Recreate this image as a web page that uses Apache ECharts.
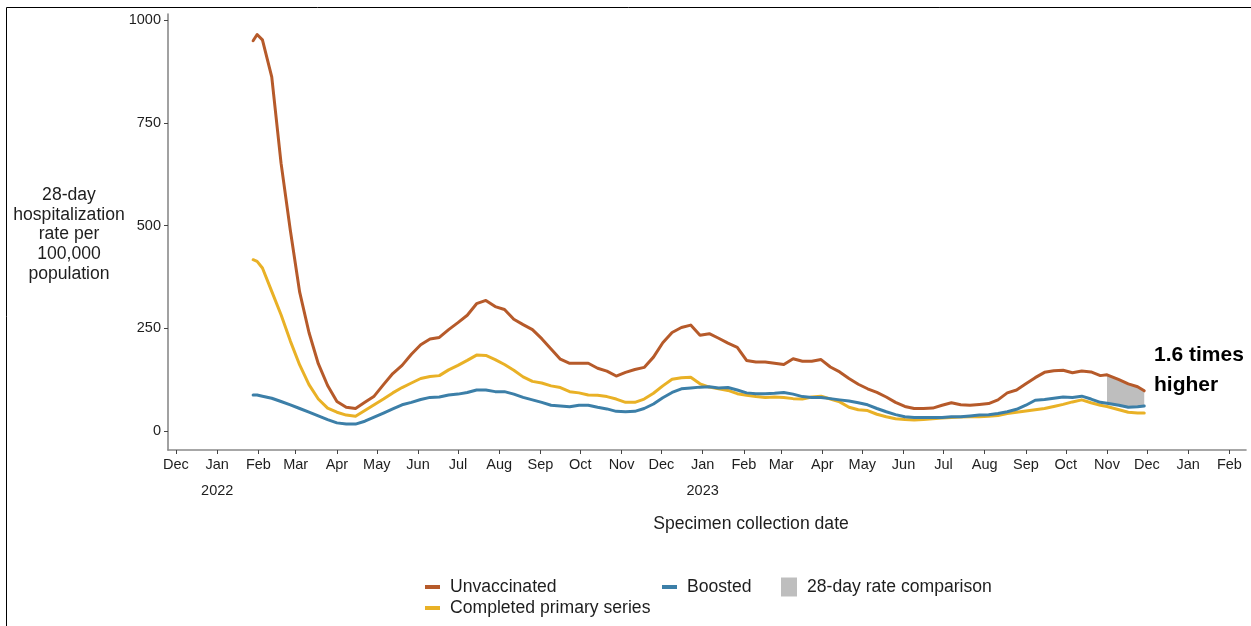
<!DOCTYPE html>
<html>
<head>
<meta charset="utf-8">
<script src="https://cdn.jsdelivr.net/npm/echarts@6/dist/echarts.min.js"></script>
<style>
  html, body { margin: 0; padding: 0; background: #ffffff; }
  #chart { width: 1251px; height: 626px; }
</style>
</head>
<body>
<div id="chart"></div>
<script>
// Weekly readings of the 28-day hospitalization rate per 100,000 population
const dates = [
  '2022-01-28','2022-01-31','2022-02-04','2022-02-11','2022-02-18','2022-02-25','2022-03-04','2022-03-11','2022-03-18','2022-03-25',
  '2022-04-01','2022-04-08','2022-04-15','2022-04-22','2022-04-29','2022-05-06','2022-05-13','2022-05-20','2022-05-27','2022-06-03',
  '2022-06-10','2022-06-17','2022-06-24','2022-07-01','2022-07-08','2022-07-15','2022-07-22','2022-07-29','2022-08-05','2022-08-12',
  '2022-08-19','2022-08-26','2022-09-02','2022-09-09','2022-09-16','2022-09-23','2022-09-30','2022-10-07','2022-10-14','2022-10-21',
  '2022-10-28','2022-11-04','2022-11-11','2022-11-18','2022-11-25','2022-12-02','2022-12-09','2022-12-16','2022-12-23','2022-12-30',
  '2023-01-06','2023-01-13','2023-01-20','2023-01-27','2023-02-03','2023-02-10','2023-02-17','2023-02-24','2023-03-03','2023-03-10',
  '2023-03-17','2023-03-24','2023-03-31','2023-04-07','2023-04-14','2023-04-21','2023-04-28','2023-05-05','2023-05-12','2023-05-19',
  '2023-05-26','2023-06-02','2023-06-09','2023-06-16','2023-06-23','2023-06-30','2023-07-07','2023-07-14','2023-07-21','2023-07-28',
  '2023-08-04','2023-08-11','2023-08-18','2023-08-25','2023-09-01','2023-09-08','2023-09-15','2023-09-22','2023-09-29','2023-10-06',
  '2023-10-13','2023-10-20','2023-10-27','2023-11-01','2023-11-10','2023-11-17','2023-11-24','2023-11-29'
];

const unvaccinated = [
  950, 965, 952, 862, 652, 488, 338, 240, 164, 111,
  72, 58, 55, 70, 85, 113, 140, 160, 187, 210,
  224, 228, 247, 264, 282, 310, 318, 303, 296, 272,
  259, 247, 225, 200, 175, 165, 165, 165, 153, 146,
  134, 143, 150, 155, 180, 215, 240, 252, 258, 233,
  237, 226, 214, 204, 172, 168, 168, 165, 162, 176,
  170, 170, 174, 156, 144, 128, 114, 103, 94, 83,
  70, 60, 55, 55, 56, 63, 69, 64, 63, 65,
  67, 76, 93, 100, 115, 130, 143, 147, 148, 142,
  146, 144, 135, 137, 125, 115, 108, 98
];

const primarySeries = [
  417, 413, 397, 340, 283, 219, 161, 113, 78, 56,
  46, 39, 36, 50, 64, 78, 93, 106, 117, 128,
  133, 135, 149, 160, 172, 185, 184, 174, 162, 148,
  132, 121, 117, 110, 106, 96, 93, 88, 87, 84,
  78, 70, 70, 78, 92, 110, 126, 130, 131, 115,
  107, 103, 99, 91, 87, 84, 82, 83, 82, 79,
  78, 83, 85, 78, 71, 58, 52, 50, 41, 35,
  30, 28, 27, 28, 30, 32, 33, 34, 35, 35,
  36, 38, 43, 46, 49, 52, 55, 60, 65, 71,
  76, 69, 63, 60, 52, 46, 44, 44
];

const boosted = [
  88, 88, 85, 80, 72, 64, 55, 46, 37, 28,
  20, 17, 17, 24, 34, 44, 54, 64, 70, 77,
  82, 83, 88, 90, 94, 100, 100, 96, 96, 90,
  82, 76, 70, 63, 61, 59, 63, 63, 58, 54,
  48, 47, 48, 55, 66, 81, 94, 103, 105, 107,
  108, 105, 106, 100, 93, 91, 91, 92, 94, 90,
  84, 82, 82, 79, 76, 73, 69, 64, 55, 47,
  40, 35, 33, 33, 33, 33, 35, 35, 37, 39,
  40, 43, 47, 53, 63, 75, 77, 80, 83, 82,
  85, 78, 70, 68, 63, 58, 59, 61
];

// Axis ticks and labels
const monthTicks = [
  '2021-12-01','2022-01-01','2022-02-01','2022-03-01','2022-04-01','2022-05-01','2022-06-01','2022-07-01','2022-08-01',
  '2022-09-01','2022-10-01','2022-11-01','2022-12-01','2023-01-01','2023-02-01','2023-03-01','2023-04-01','2023-05-01',
  '2023-06-01','2023-07-01','2023-08-01','2023-09-01','2023-10-01','2023-11-01','2023-12-01','2024-01-01','2024-02-01'
];
const monthNames = ['Jan','Feb','Mar','Apr','May','Jun','Jul','Aug','Sep','Oct','Nov','Dec'];
const yearTicks = ['2022-01-01', '2023-01-01'];
const yearNames = ['2022', '2023'];
const yTicks = [0, 250, 500, 750, 1000];

// Shaded comparison window and its label
const comparisonStart = '2023-11-01';
const annotationLines = ['1.6 times', 'higher'];

const seriesNames = {
  unvax: 'Unvaccinated',
  primary: 'Completed primary series',
  boosted: 'Boosted',
  compare: '28-day rate comparison'
};
const yTitleLines = ['28-day', 'hospitalization', 'rate per', '100,000', 'population'];
const xTitle = 'Specimen collection date';

const colors = { unvax: '#B65A2A', primary: '#E9B126', boosted: '#3C7FA8', compare: '#BEBEBE' };
const FONT = "'Liberation Sans', Arial, sans-serif";
const TEXT = '#1e1e1e';

const parse = s => echarts.number.parseDate(s).getTime();
const pairs = vals => dates.map((d, i) => [parse(d), vals[i]]);

// Rows of [date, unvaccinated, boosted] inside the comparison window
const startIdx = dates.indexOf(comparisonStart);
const cmpRows = dates.slice(startIdx).map((d, k) => [parse(d), unvaccinated[startIdx + k], boosted[startIdx + k]]);

const monthTickValues = monthTicks.map(parse);
const yearOf = {};
yearTicks.forEach((d, i) => { yearOf[parse(d)] = yearNames[i]; });

const chart = echarts.init(document.getElementById('chart'), null, { renderer: 'canvas' });

function lineSeries(name, vals, color) {
  return {
    name: name, type: 'line', data: pairs(vals), showSymbol: false, symbol: 'none',
    lineStyle: { color: color, width: 3, join: 'round', cap: 'round' },
    itemStyle: { color: color }, z: 3
  };
}

function legendBlock(name, color, left, top, w, h) {
  return {
    show: true, left: left, top: top, padding: 0, orient: 'horizontal',
    itemWidth: w, itemHeight: h, selectedMode: false,
    data: [{ name: name, icon: 'rect', itemStyle: { color: color, borderWidth: 0 } }],
    textStyle: { fontFamily: FONT, fontSize: 17.6, color: TEXT, lineHeight: 20, padding: [0, 0, 0, 5] }
  };
}

const graphics = [
  { type: 'line', shape: { x1: 6.5, y1: 7.5, x2: 1251, y2: 7.5 }, style: { stroke: '#000', lineWidth: 1 }, silent: true },
  { type: 'line', shape: { x1: 6.5, y1: 7.5, x2: 6.5, y2: 626 }, style: { stroke: '#000', lineWidth: 1 }, silent: true },
  {
    type: 'text', x: 751, y: 524,
    style: { text: xTitle, fill: TEXT, font: '17.6px ' + FONT, textAlign: 'center', textVerticalAlign: 'middle' }
  }
];
yTitleLines.forEach((t, i) => {
  graphics.push({
    type: 'text', x: 69, y: 195 + i * 19.7,
    style: { text: t, fill: TEXT, font: '17.6px ' + FONT, textAlign: 'center', textVerticalAlign: 'middle' }
  });
});
annotationLines.forEach((t, i) => {
  graphics.push({
    type: 'text', x: 1154, y: 355.5 + i * 29.5,
    style: { text: t, fill: '#000', font: 'bold 21px ' + FONT, textAlign: 'left', textVerticalAlign: 'middle' }
  });
});

const option = {
  animation: false,
  backgroundColor: '#ffffff',
  grid: { left: 168, right: 5, top: 14, bottom: 176, containLabel: false },
  xAxis: {
    type: 'value',
    min: parse('2021-11-25'),
    max: parse('2024-02-13 12:00'),
    axisLine: { show: true, onZero: false, lineStyle: { color: '#8a8a8a', width: 1.6 } },
    axisTick: { show: true, length: 4, lineStyle: { color: '#444', width: 1 }, customValues: monthTickValues },
    axisLabel: {
      show: true, margin: 6, customValues: monthTickValues,
      formatter: function (value) {
        const m = monthNames[new Date(value).getMonth()];
        const y = yearOf[value];
        return y ? '{m|' + m + '}\n{y|' + y + '}' : '{m|' + m + '}';
      },
      rich: {
        m: { fontFamily: FONT, fontSize: 14.5, color: TEXT, lineHeight: 17 },
        y: { fontFamily: FONT, fontSize: 14.5, color: TEXT, lineHeight: 35 }
      }
    },
    splitLine: { show: false }
  },
  yAxis: {
    type: 'value',
    min: -46, max: 1015,
    axisLine: { show: true, lineStyle: { color: '#8a8a8a', width: 1.6 } },
    axisTick: { show: true, length: 4, lineStyle: { color: '#444', width: 1 }, customValues: yTicks },
    axisLabel: {
      show: true, margin: 7, customValues: yTicks, fontFamily: FONT, fontSize: 14.5, color: TEXT,
      formatter: v => String(v)
    },
    splitLine: { show: false }
  },
  legend: [
    legendBlock(seriesNames.unvax, colors.unvax, 425, 577, 15, 4),
    legendBlock(seriesNames.boosted, colors.boosted, 662, 577, 15, 4),
    legendBlock(seriesNames.compare, colors.compare, 781, 577, 16, 19),
    legendBlock(seriesNames.primary, colors.primary, 425, 598, 15, 4)
  ],
  graphic: graphics,
  series: [
    {
      // Band between the unvaccinated and boosted rates over the comparison window
      name: seriesNames.compare, type: 'custom', data: cmpRows, z: 1,
      itemStyle: { color: colors.compare },
      encode: { x: 0, y: [1, 2] },
      renderItem: function (params, api) {
        if (params.dataIndex !== 0) return null;
        const upper = cmpRows.map(r => api.coord([r[0], r[1]]));
        const lower = cmpRows.map(r => api.coord([r[0], r[2]])).reverse();
        return {
          type: 'polygon',
          shape: { points: upper.concat(lower) },
          style: { fill: colors.compare, stroke: null }
        };
      }
    },
    lineSeries(seriesNames.unvax, unvaccinated, colors.unvax),
    lineSeries(seriesNames.primary, primarySeries, colors.primary),
    lineSeries(seriesNames.boosted, boosted, colors.boosted)
  ]
};

chart.setOption(option);
</script>
</body>
</html>
